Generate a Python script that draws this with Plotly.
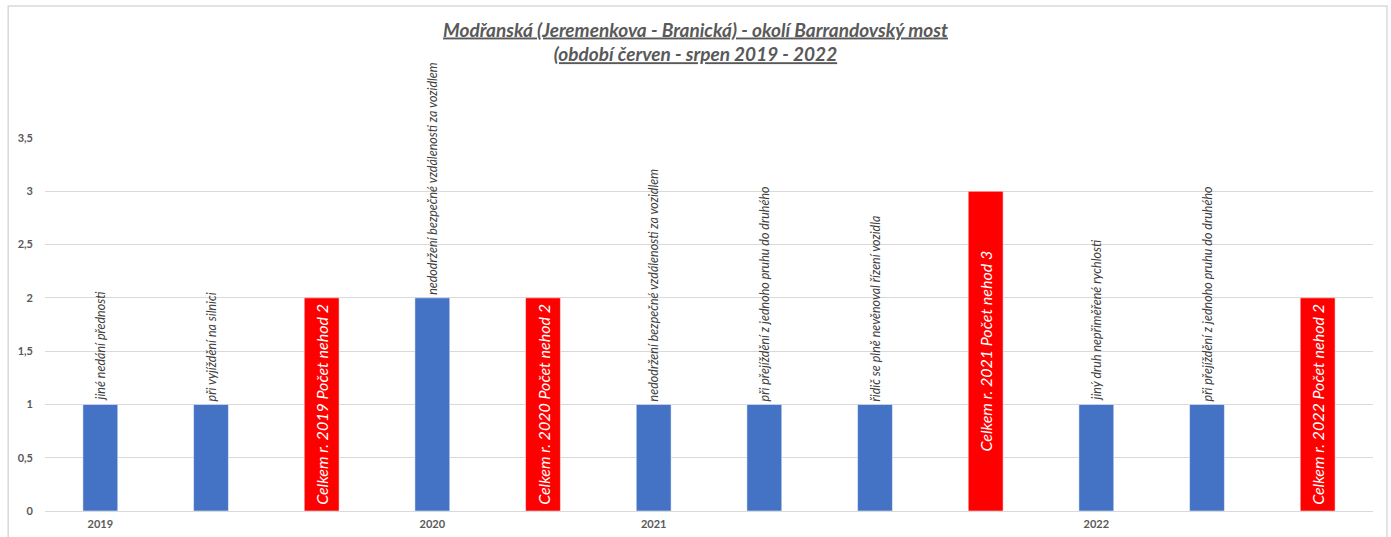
import plotly.graph_objects as go

# Accident causes per year, with yearly totals (Celkem) in red
categories = [
    "jiné nedání přednosti",
    "při vyjíždění na silnici",
    "Celkem r. 2019 Počet nehod 2",
    "nedodržení bezpečné vzdálenosti za vozidlem ",
    "Celkem r. 2020 Počet nehod 2",
    "nedodržení bezpečné vzdálenosti za vozidlem",
    "při přejíždění z jednoho pruhu do druhého ",
    "řidič se plně nevěnoval řízení vozidla",
    "Celkem r. 2021 Počet nehod 3",
    "jiný druh nepřiměřené rychlosti",
    "při přejíždění z jednoho pruhu do druhého",
    "Celkem r. 2022 Počet nehod 2",
]
values = [1, 1, 2, 2, 2, 1, 1, 1, 3, 1, 1, 2]
is_total = [False, False, True, False, True, False, False, False, True, False, False, True]
year_ticks = ["2019", "", "", "2020", "", "2021", "", "", "", "2022", "", ""]

title_lines = [
    "Modřanská (Jeremenkova - Branická) - okolí Barrandovský most",
    "(období červen - srpen 2019 - 2022",
]

BLUE = "#4472c4"
RED = "#ff0000"
GRID = "#d9d9d9"
TEXT = "#595959"
FONT = "Lato, 'Open Sans', sans-serif"

x = list(range(len(categories)))
colors = [RED if t else BLUE for t in is_total]
positions = ["inside" if t else "outside" for t in is_total]
label_sizes = [16 if t else 12.5 for t in is_total]
label_colors = ["white" if t else "#404040" for t in is_total]
labels = [c.strip() for c in categories]

fig = go.Figure(
    go.Bar(
        x=x,
        y=values,
        marker=dict(color=colors, line=dict(color="rgba(255,255,255,0.5)", width=1)),
        text=labels,
        textposition=positions,
        insidetextanchor="middle",
        textangle=-90,
        textfont=dict(family=FONT, size=label_sizes, color=label_colors, style="italic"),
        constraintext="none",
        cliponaxis=False,
        hoverinfo="skip",
    )
)

fig.update_layout(
    width=1391,
    height=537,
    margin=dict(l=45, r=18, t=138, b=26, autoexpand=False),
    paper_bgcolor="white",
    plot_bgcolor="white",
    separators=", ",
    bargap=0.685,
    showlegend=False,
    font=dict(family=FONT, color=TEXT),
    title=dict(
        text="<u>" + title_lines[0] + "</u><br><u>" + title_lines[1] + "</u>",
        x=0.5,
        xref="container",
        xanchor="center",
        y=0.932,
        yref="container",
        yanchor="top",
        font=dict(family=FONT, size=19, color=TEXT, style="italic", weight="bold"),
    ),
    xaxis=dict(
        tickmode="array",
        tickvals=x,
        ticktext=year_ticks,
        range=[-0.5, len(categories) - 0.5],
        showgrid=False,
        zeroline=False,
        showline=False,
        ticks="",
        automargin=False,
        ticklabelstandoff=5,
        tickfont=dict(family=FONT, size=11, color=TEXT, weight="bold"),
    ),
    yaxis=dict(
        range=[0, 3.5],
        dtick=0.5,
        showgrid=True,
        gridcolor=GRID,
        gridwidth=1,
        zeroline=True,
        zerolinecolor=GRID,
        zerolinewidth=1,
        showline=False,
        ticks="",
        automargin=False,
        ticklabelstandoff=11,
        tickfont=dict(family=FONT, size=11, color=TEXT, weight="bold"),
    ),
    shapes=[
        dict(
            type="path",
            xref="paper",
            yref="paper",
            path="M -0.0277 -0.1 L -0.0277 1.3539 L 1.0105 1.3539 L 1.0105 -0.1",
            line=dict(color=GRID, width=1.5),
        )
    ],
)

fig.write_html("out.html")
